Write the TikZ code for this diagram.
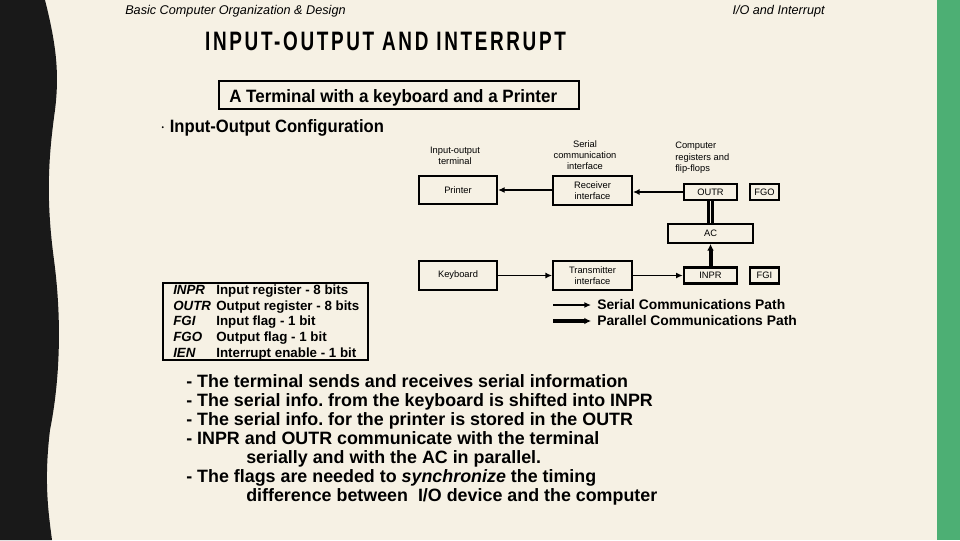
\documentclass[tikz,border=0pt]{standalone}
\usepackage{fontspec}
\setmainfont{Liberation Sans}
\usetikzlibrary{arrows.meta}
\definecolor{bg}{HTML}{F6F1E4}
\definecolor{grn}{HTML}{4DAF74}
\frenchspacing
\begin{document}
\begin{tikzpicture}[x=0.75pt,y=-0.75pt,
  blk/.style={draw,line width=1.6pt,inner sep=0pt,font=\fontsize{7}{8}\selectfont},
  lbl/.style={font=\fontsize{7}{8.5}\selectfont,align=center,inner sep=0pt},
  ser/.style={line width=1.1pt,-{Latex[length=5pt,width=4.5pt]}},
  par/.style={line width=3pt,-{Latex[length=5pt,width=5pt]}},
  txt/.style={font=\bfseries\fontsize{13.4}{15}\selectfont,anchor=base west,inner sep=0pt}]
\useasboundingbox (0,0) rectangle (960,540);
\fill[bg] (0,0) rectangle (960,540);
\fill[grn] (937,0) rectangle (960,540);
\fill[black!90] (0,0) -- (45,0) .. controls (55,40) and (60,70) .. (55,110) .. controls (48,160) and (46,200) .. (54,260) .. controls (62,320) and (60,380) .. (50,430) .. controls (44,480) and (48,510) .. (52,540) -- (0,540) -- cycle;
\node[anchor=west,inner sep=0pt,font=\itshape\fontsize{9.5}{11}\selectfont] (h1) at (125,11) {Basic Computer Organization \& Design};
\node[anchor=east,inner sep=0pt,font=\itshape\fontsize{9.5}{11}\selectfont] (h2) at (825,11) {I/O and Interrupt};
\node[anchor=west,inner sep=0pt,font=\bfseries\fontsize{20}{22}\selectfont,xscale=0.71] (title) at (205,41) {\addfontfeature{LetterSpace=14}INPUT-OUTPUT AND INTERRUPT};
\node[draw,line width=1.5pt,minimum width=270pt,minimum height=21pt,inner sep=0pt,anchor=north west] (tb) at (218,80) {};
\node[anchor=west,inner sep=0pt,font=\bfseries\fontsize{13.4}{15}\selectfont,xscale=0.95] (tbt) at (229,98) {A Terminal with a keyboard and a Printer};
\node[anchor=west,inner sep=0pt,font=\bfseries\fontsize{13.4}{15}\selectfont,xscale=0.93] (cfg) at (160,128) {$\cdot$ Input-Output Configuration};
% diagram
\node[blk,minimum width=58.5pt,minimum height=21pt] (pr) at (458,190) {Printer};
\node[blk,minimum width=59pt,minimum height=21.5pt,align=center] (rx) at (592.5,190.5) {Receiver\\interface};
\node[blk,minimum width=40pt,minimum height=12pt] (outr) at (710.5,192) {OUTR};
\node[blk,minimum width=22pt,minimum height=12pt] (fgo) at (764.5,192) {FGO};
\node[blk,minimum width=64pt,minimum height=14pt] (ac) at (710.5,233.5) {AC};
\node[blk,minimum width=58.5pt,minimum height=21.5pt] (kb) at (458,275.5) {Keyboard};
\node[blk,minimum width=59pt,minimum height=21.5pt,align=center] (tx) at (592.5,275.5) {Transmitter\\interface};
\node[blk,minimum width=40pt,minimum height=12pt] (inpr) at (710.5,275.5) {INPR};
\node[blk,minimum width=22pt,minimum height=12pt] (fgi) at (764.5,275.5) {FGI};
\node[lbl] (l1) at (455,156) {Input-output\\terminal};
\node[lbl] (l2) at (585,155) {Serial\\communication\\interface};
\node[lbl,align=left,anchor=west] (l3) at (675,158) {Computer\\registers and\\flip-flops};
\draw[ser] (rx.west|-pr.east) -- (pr.east);
\draw[ser] (outr.west) -- (rx.east|-outr.west);
\draw[ser] (kb.east) -- (tx.west|-kb.east);
\draw[ser] (tx.east|-inpr.west) -- (inpr.west);
\draw[par] (inpr.north) -- (ac.south);
\draw[line width=2.2pt,double=bg,double distance=1.2pt] (ac.north) -- (outr.south);
\coordinate (s1) at (553,305); \coordinate (s2) at (591,305);
\coordinate (p1) at (553,321); \coordinate (p2) at (591,321);
\draw[ser] (s1) -- (s2);
\draw[par] (p1) -- (p2);
\node[anchor=west,inner sep=0pt,font=\bfseries\fontsize{10.4}{12}\selectfont] (sl) at (597,305) {Serial Communications Path};
\node[anchor=west,inner sep=0pt,font=\bfseries\fontsize{10.4}{12}\selectfont] (pl) at (597,321) {Parallel Communications Path};
\node[draw,line width=1.5pt,anchor=north west,minimum width=154pt,minimum height=58pt,inner sep=0pt] (lg) at (162,282) {};
\node[anchor=north west,inner sep=0pt,font=\fontsize{10}{11.8}\selectfont,align=left] (lgt) at (173,283) {%
\begin{tabular}{@{}l@{\hspace{4pt}}l@{}}
\textbf{\textit{INPR}} & \textbf{Input register - 8 bits}\\
\textbf{\textit{OUTR}} & \textbf{Output register - 8 bits}\\
\textbf{\textit{FGI}} & \textbf{Input flag - 1 bit}\\
\textbf{\textit{FGO}} & \textbf{Output flag - 1 bit}\\
\textbf{\textit{IEN}} & \textbf{Interrupt enable - 1 bit}
\end{tabular}};
\node[txt] (b1) at (186,387) {- The terminal sends and receives serial information};
\node[txt] (b2) at (186,406) {- The serial info. from the keyboard is shifted into INPR};
\node[txt] (b3) at (186,425) {- The serial info. for the printer is stored in the OUTR};
\node[txt] (b4) at (186,444) {- INPR and OUTR communicate with the terminal};
\node[txt] (b5) at (246,463) {serially and with the AC in parallel.};
\node[txt] (b6) at (186,482) {- The flags are needed to \textit{synchronize} the timing};
\node[txt] (b7) at (246,501) {difference between\ \ I/O device and the computer};
\end{tikzpicture}
\end{document}
